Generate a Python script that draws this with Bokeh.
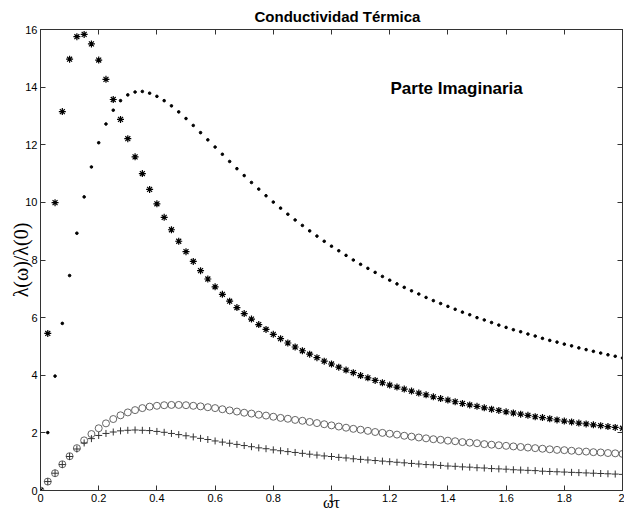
from bokeh.plotting import figure
from bokeh.models import LinearAxis, FixedTicker, NumeralTickFormatter, Range1d, Label
from bokeh.embed import file_html
from bokeh.resources import INLINE

# omega*tau
x = [0.0, 0.025, 0.05, 0.075, 0.1, 0.125, 0.15, 0.175, 0.2, 0.225, 0.25, 0.275, 0.3, 0.325,
     0.35, 0.375, 0.4, 0.425, 0.45, 0.475, 0.5, 0.525, 0.55, 0.575, 0.6, 0.625, 0.65, 0.675,
     0.7, 0.725, 0.75, 0.775, 0.8, 0.825, 0.85, 0.875, 0.9, 0.925, 0.95, 0.975, 1.0, 1.025,
     1.05, 1.075, 1.1, 1.125, 1.15, 1.175, 1.2, 1.225, 1.25, 1.275, 1.3, 1.325, 1.35, 1.375,
     1.4, 1.425, 1.45, 1.475, 1.5, 1.525, 1.55, 1.575, 1.6, 1.625, 1.65, 1.675, 1.7, 1.725,
     1.75, 1.775, 1.8, 1.825, 1.85, 1.875, 1.9, 1.925, 1.95, 1.975, 2.0]

serie_puntos = [0, 2.01, 3.97, 5.80, 7.46, 8.93, 10.19, 11.23, 12.07, 12.72, 13.20, 13.53, 13.73,
                13.83, 13.85, 13.79, 13.68, 13.53, 13.35, 13.14, 12.91, 12.67, 12.42, 12.17, 11.92,
                11.67, 11.42, 11.17, 10.93, 10.69, 10.46, 10.23, 10.01, 9.80, 9.59, 9.39, 9.20,
                9.01, 8.83, 8.65, 8.48, 8.32, 8.16, 8.00, 7.85, 7.71, 7.57, 7.43, 7.30, 7.17, 7.05,
                6.93, 6.82, 6.70, 6.59, 6.49, 6.39, 6.29, 6.19, 6.10, 6.00, 5.92, 5.83, 5.74, 5.66,
                5.58, 5.51, 5.43, 5.36, 5.28, 5.21, 5.15, 5.08, 5.02, 4.95, 4.89, 4.83, 4.77, 4.71,
                4.66, 4.60]

serie_asteriscos = [0, 5.45, 9.99, 13.15, 14.97, 15.75, 15.83, 15.50, 14.94, 14.27, 13.57, 12.88,
                    12.21, 11.58, 11.00, 10.45, 9.95, 9.48, 9.05, 8.65, 8.29, 7.95, 7.63, 7.34,
                    7.07, 6.81, 6.57, 6.35, 6.14, 5.95, 5.76, 5.59, 5.42, 5.27, 5.12, 4.98, 4.85,
                    4.73, 4.61, 4.49, 4.39, 4.28, 4.18, 4.09, 3.99, 3.91, 3.82, 3.74, 3.66, 3.59,
                    3.52, 3.45, 3.38, 3.32, 3.25, 3.19, 3.14, 3.08, 3.02, 2.97, 2.92, 2.87, 2.82,
                    2.78, 2.73, 2.69, 2.65, 2.61, 2.56, 2.53, 2.49, 2.45, 2.41, 2.38, 2.34, 2.31,
                    2.28, 2.25, 2.22, 2.19, 2.16]

serie_circulos = [0, 0.31, 0.60, 0.91, 1.19, 1.47, 1.74, 1.96, 2.16, 2.33, 2.48, 2.61, 2.71, 2.79,
                  2.86, 2.91, 2.94, 2.96, 2.97, 2.97, 2.96, 2.94, 2.92, 2.89, 2.86, 2.82, 2.78,
                  2.74, 2.70, 2.67, 2.63, 2.60, 2.56, 2.52, 2.49, 2.45, 2.42, 2.38, 2.34, 2.30,
                  2.26, 2.22, 2.18, 2.14, 2.11, 2.07, 2.03, 2.00, 1.97, 1.94, 1.90, 1.87, 1.84,
                  1.81, 1.78, 1.76, 1.73, 1.71, 1.68, 1.66, 1.64, 1.61, 1.59, 1.57, 1.55, 1.53,
                  1.51, 1.49, 1.47, 1.45, 1.43, 1.41, 1.40, 1.38, 1.36, 1.35, 1.33, 1.32, 1.30,
                  1.29, 1.27]

serie_cruces = [0, 0.31, 0.60, 0.90, 1.18, 1.44, 1.65, 1.80, 1.91, 1.98, 2.03, 2.07, 2.09, 2.10,
                2.09, 2.08, 2.05, 2.02, 1.98, 1.94, 1.90, 1.86, 1.81, 1.77, 1.72, 1.68, 1.64, 1.60,
                1.56, 1.52, 1.48, 1.45, 1.41, 1.38, 1.35, 1.32, 1.29, 1.26, 1.23, 1.20, 1.18, 1.15,
                1.13, 1.10, 1.08, 1.06, 1.04, 1.02, 1.00, 0.98, 0.96, 0.94, 0.92, 0.90, 0.89, 0.87,
                0.85, 0.84, 0.82, 0.81, 0.79, 0.78, 0.76, 0.75, 0.74, 0.72, 0.71, 0.70, 0.69, 0.67,
                0.66, 0.65, 0.64, 0.63, 0.62, 0.61, 0.60, 0.59, 0.58, 0.57, 0.56]

x_ticks = [0, 0.2, 0.4, 0.6, 0.8, 1.0, 1.2, 1.4, 1.6, 1.8, 2.0]
y_ticks = [0, 2, 4, 6, 8, 10, 12, 14, 16]

titulo = "Conductividad Térmica"
anotacion = "Parte Imaginaria"
etiqueta_y = "λ(ω)/λ(0)"
etiqueta_x = "ωτ"

p = figure(width=624, height=514, output_backend="svg", toolbar_location=None,
           x_range=Range1d(0, 2), y_range=Range1d(0, 16),
           min_border_left=40, min_border_right=2, min_border_top=29, min_border_bottom=24)

p.title.text = titulo
p.title.align = "left"
p.title.offset = 214
p.title.text_font = "Liberation Sans"
p.title.text_font_style = "bold"
p.title.text_font_size = "15px"
p.title.text_color = "black"

p.grid.visible = False
p.outline_line_color = "#333333"
p.background_fill_color = "white"
p.border_fill_color = "white"

for ax in (p.xaxis[0], p.yaxis[0]):
    ax.major_tick_in = 5
    ax.major_tick_out = 0
    ax.minor_tick_line_color = None
    ax.major_label_text_font = "Liberation Sans"
    ax.major_label_text_font_size = "11px"
    ax.major_label_text_color = "black"
    ax.axis_line_color = "#333333"
    ax.major_tick_line_color = "#333333"
    ax.major_label_standoff = 3
    ax.axis_label_text_font = "Liberation Serif"
    ax.axis_label_text_font_style = "normal"
    ax.axis_label_text_color = "black"

p.xaxis.ticker = FixedTicker(ticks=x_ticks)
p.xaxis.formatter = NumeralTickFormatter(format="0.[0]")
p.yaxis.ticker = FixedTicker(ticks=y_ticks)

p.yaxis.axis_label = etiqueta_y
p.yaxis.axis_label_text_font_size = "20px"
p.yaxis.axis_label_standoff = -10

p.xaxis.axis_label = etiqueta_x
p.xaxis.axis_label_text_font_size = "16px"
p.xaxis.axis_label_standoff = -11

for loc, ticks in (("right", y_ticks), ("above", x_ticks)):
    a = LinearAxis(ticker=FixedTicker(ticks=ticks), major_tick_in=5, major_tick_out=0,
                   minor_tick_line_color=None, major_label_text_font_size="1px",
                   major_label_overrides={t: "" for t in ticks},
                   major_label_standoff=0, axis_line_color="#333333",
                   major_tick_line_color="#333333")
    p.add_layout(a, loc)

p.scatter(x, serie_puntos, marker="circle", size=2.6, color="black")
p.scatter(x, serie_asteriscos, marker="asterisk", size=7, line_color="black", line_width=1.2)
p.scatter(x, serie_circulos, marker="circle", size=7, fill_color=None, line_color="#555555",
          line_width=0.9)
p.scatter(x, serie_cruces, marker="cross", size=7, line_color="#333333", line_width=1)

p.add_layout(Label(x=1.43, y=13.95, text=anotacion, text_align="center", text_baseline="middle",
                   text_font="Liberation Sans", text_font_style="bold", text_font_size="17px",
                   text_color="black"))

open("out.html", "w").write(file_html(p, INLINE))
